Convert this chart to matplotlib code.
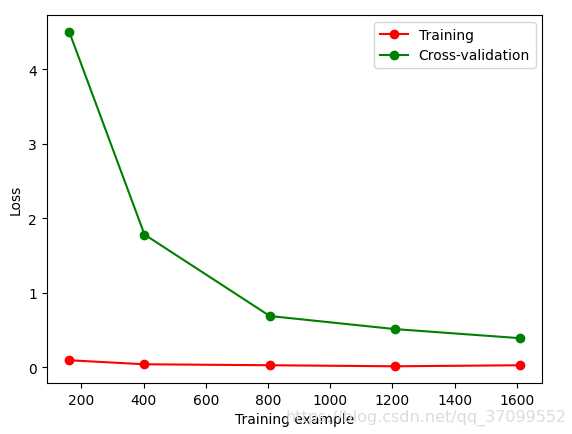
import matplotlib
matplotlib.use("Agg")
import matplotlib.pyplot as plt

train_sizes = [161, 403, 806, 1208, 1610]
train_loss = [0.094, 0.04, 0.027, 0.013, 0.027]
cv_loss = [4.50, 1.78, 0.687, 0.512, 0.39]

fig = plt.figure(figsize=(5.72, 4.35), dpi=100)
ax = fig.add_axes([0.0816, 0.1172, 0.8668, 0.846])
ax.plot(train_sizes, train_loss, 'o-', color='r', label='Training')
ax.plot(train_sizes, cv_loss, 'o-', color='g', label='Cross-validation')
ax.set_xlabel('Training example')
ax.set_ylabel('Loss')
ax.legend(loc='upper right')
fig.text(0.99, 0.04, 'https://blog.csdn.net/qq_37099552', ha='right', va='center',
         color='#dcdcdc', fontsize=11.5)
fig.savefig('out.png', dpi=100)
